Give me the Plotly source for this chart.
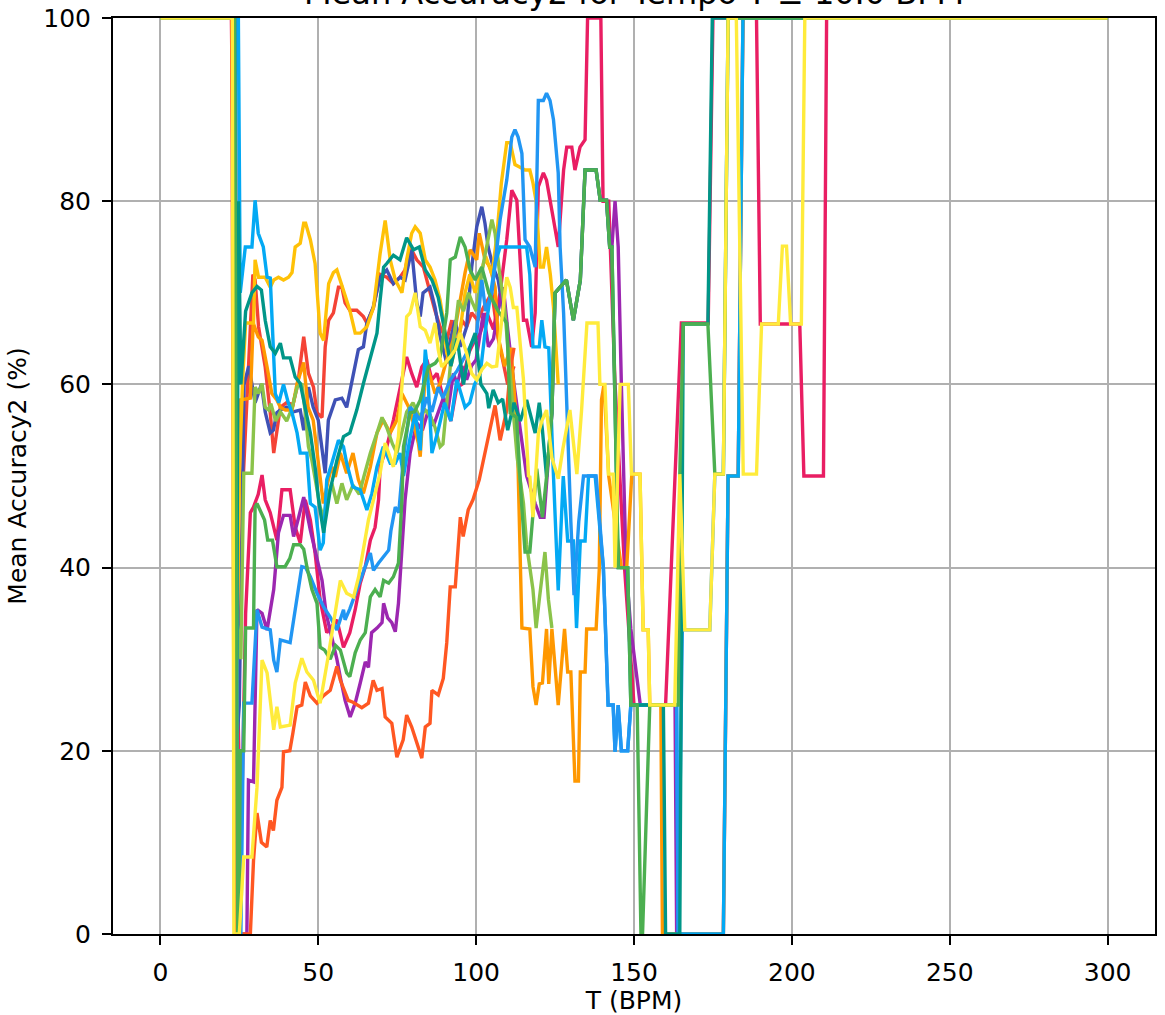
import plotly.graph_objects as go

# ---- data: (BPM, mean accuracy %) per series ----
red = [(0,100),(22.8,100),(23.7,67),(24.5,52),(26,48),(28,62),(29.3,72),(30,71.4),(31.1,66.3),(33.2,61.9),(34.8,56.9),(35.9,52.5),(36.9,54.7),(38,57.5),(40,58),(42,57.8),(43.5,60),(45.4,65.2),(46.9,61.2),(48.5,59.7),(49.6,56.9),(51.2,56.4),(52.2,64.1),(53.3,67),(54.8,67.8),(56.4,70.6),(57.5,70.6),(58.5,68.9),(60,68.1),(62.2,68.1),(64.3,67.4),(65.4,66.7),(67.5,68.4),(69.6,72),(71.7,71.7),(73.8,71),(75.9,71.7),(77.5,72.5),(79.1,75),(81.2,73.6),(83.3,72.8),(85.4,70),(87,68),(88.6,66.3),(90.7,64.8),(92.3,67),(93.9,64),(95.5,67),(97,66.3),(98.6,67.8),(100.5,67),(102.3,68.4),(105,70),(107,65),(110,60),(112,62)]

pink = [(0,100),(22.5,100),(23.5,67),(24.2,31),(25,17),(26,17),(27,35),(28.5,46),(29.5,46.6),(31,48),(32.2,50.1),(33.2,47.4),(34.8,46),(36.9,43),(38.5,48.5),(41.1,48.5),(42.7,44.4),(44.3,42.7),(45.9,47.4),(47.5,45.2),(49,41.6),(50.6,36.5),(52.7,32.9),(55.9,34.3),(58,31.3),(60,32.9),(61.7,35.4),(63.3,38.3),(64.9,40.1),(66.5,43),(68,44.4),(69.1,47.4),(69.6,51),(71.7,53.2),(73.8,56.1),(75.9,59.7),(78,63),(79.6,61.2),(81.2,59.7),(82.8,61.9),(84.4,62.7),(86,60.5),(87.6,61.2),(90,58),(92,56),(93.9,59.7),(95.5,60),(97.6,63.4),(99.1,64.5),(101.3,65.6),(103.4,67.8),(105.5,66),(107.6,70),(109.7,75.8),(111.3,81.2),(112.9,80.1),(113.9,74.3),(115,67),(116,67),(117.6,64.1),(118.7,67.8),(119.7,81.6),(121.3,83.1),(122.3,82.3),(124.5,78),(126,75),(127.7,83.4),(128.7,85.9),(130.3,85.9),(131.3,83.4),(132.9,85.9),(134.5,86.7),(135.3,100),(139.5,100),(140.2,80),(142,80),(144,60),(147,40),(150,25),(160,25),(165,66.7),(173.5,66.7),(175,100),(188.8,100),(190,66.6),(202.5,66.6),(203.8,50),(210,50),(211,100),(300,100)]

indigo = [(0,100),(23,100),(24,20),(25,25),(26.5,60),(28,62),(30,58),(32,60),(33.2,57),(34.8,54.7),(35.8,55),(36.9,56.9),(38,57.2),(40,57.5),(42,57),(44.3,57.2),(45.4,55),(46.9,59.7),(48.4,57.5),(50,56.1),(52.2,50.3),(53.2,56.1),(55.4,58.3),(57.5,58.5),(59,57.5),(61,60.8),(62.7,63.8),(64.3,64.1),(65.4,66.7),(67.4,68.4),(69.6,71.7),(71.7,72.5),(73.8,71),(75.9,71.7),(77.5,71.4),(79.6,74.7),(81.2,68.9),(82.3,67.4),(83.2,70),(85.4,70.6),(87,68.4),(88.6,65.2),(90.7,62.3),(91.8,64.8),(93.4,67),(95,64.1),(97,66.3),(98.6,72.8),(100.2,77.2),(101.8,79.4),(102.8,77.6),(103.8,75),(105.4,72.8),(107,71.4),(108.5,68)]

purple = [(0,100),(23.3,100),(24,0),(27.4,0),(27.9,16.8),(29.5,16.6),(30.6,35.4),(32.2,35),(33.8,33.2),(35.9,37.6),(37.4,43.8),(39,45.7),(41.1,45.7),(42.2,43.4),(43.8,45.5),(45.4,47.7),(47.5,44.1),(49.6,40.8),(51.2,38.6),(52.5,35),(53.8,33.2),(55.9,30),(57,28),(58.5,25.5),(60.1,23.7),(61.7,25.2),(63.3,27.4),(64.9,29.7),(65.9,29.1),(66.9,32.9),(68.6,33.4),(70.2,34),(70.7,36.1),(72,34.5),(73.3,34),(74.4,33),(75.4,36.1),(76.5,41.9),(77.5,47.4),(79.1,52.5),(81.2,55.8),(83,55),(84.9,57.2),(86.5,55.5),(88,57),(89.7,58.6),(91,57),(92.8,61.2),(94,60),(95.5,62),(97,60.5),(98.5,62),(100,62.7),(102.3,67.8),(103.9,64.1),(105.5,65),(107,68.1),(108.6,70.6),(110,66),(112,60),(114,55),(116,50),(118.7,47),(120.3,45.5),(121.5,45.5),(123.4,55.2),(124,56.9),(125,70),(128.6,71.4),(130.8,67),(133,71.4),(134.5,83.4),(138,83.4),(139.3,80.1),(141.3,80.1),(142.3,75),(143,75),(144,80),(145,75),(146,60),(147.5,40),(149,33.3),(152,25),(163,25),(163.5,0),(178.3,0),(179.8,50),(183,50),(184.5,100),(300,100)]

orange = [(0,100),(23.8,100),(24.3,30),(25,50),(25.3,58.3),(28.5,58.5),(29.4,66.7),(31,65.2),(32.2,64.8),(33.8,61.9),(35.3,59),(36.9,58.3),(38,57.5),(39.6,57.2),(41.7,57.2),(43.3,60.1),(44.3,61.2),(45.4,62.4),(45.9,60.5),(46.8,57.5),(48.4,56.1),(50,51.7),(51.6,47),(53.2,49.6),(54.3,51),(55.4,49.9),(57,52.5),(59,50.3),(61,52.5),(62.7,49.6),(64.3,48.1),(66.5,51),(68.6,54.7),(70.6,56.1),(72.8,54.7),(74.9,56.1),(76.5,59),(79.1,57.2),(81.7,53.6),(82.3,52.1),(83.9,61.2),(84.8,61.6),(87,59),(88.6,60.1),(90.7,62.7),(92.7,64.8),(95,69.5),(96.5,72.2),(98.1,74.7),(100.2,73.6),(101,76.5),(102.8,73.6),(104.4,72.8),(106,70.6),(107,65.2),(109,62),(111,64),(113,55),(114.5,33.4),(117,33.3),(118,27),(119,25),(120,27.3),(121,27.4),(122.3,33.3),(123,27.3),(124,33.3),(126,25),(128,33.3),(129,28.6),(130,28.6),(131.3,16.7),(132.4,16.7),(133,28.6),(134.5,28.6),(135,33.3),(138,33.3),(139,39.8),(139.7,58.3),(140.5,60),(142,50),(144,45),(146,40),(147.7,40),(149.3,50.2),(151.9,50.2),(152.9,33.2),(154.5,33.2),(155,25),(158.5,25),(159,0),(178.3,0),(179.8,50),(183,50),(184.5,100),(300,100)]

deep_orange = [(0,100),(22.6,100),(23.5,0),(28.5,0),(29.5,8),(30.6,13.2),(32,10),(33.7,9.5),(34.8,12.4),(35.8,11.3),(36.9,14.6),(38.5,16),(39,19.9),(41,20),(42,22),(43.3,24.8),(44.8,25),(45.9,27.5),(47.5,26),(49.6,25.2),(51.6,26),(53.8,26.6),(55.9,29.2),(57,27.7),(59.5,25.5),(61,25.3),(63.8,24.7),(65.9,25.2),(67.4,27.7),(68.6,26.6),(70.2,26.8),(71.2,23.7),(73.3,23),(74.9,19.3),(76.9,21.2),(78,23.9),(79.6,22.6),(81.2,20.8),(82.8,19.2),(83.9,22.6),(85.4,23),(86,26.6),(88,26.1),(89.6,27.9),(90.7,31.8),(91.8,37.9),(93.4,37.9),(95,45.5),(95.9,43.4),(97.5,46.3),(99,47.4),(101,49.6),(103,53),(106,57.7),(107.6,53.9),(109.7,57.2),(110.8,61.6),(112,64)]

amber = [(0,100),(23.5,100),(24.2,33.4),(25,50),(26,60),(27,66.7),(29.5,66.7),(30,73.6),(31.1,71.7),(33.2,71.7),(34.8,70.6),(35.9,71.4),(37.4,71.7),(39,71.4),(40.6,71.7),(41.7,72.2),(42.7,75),(44.3,75.4),(45.4,77.6),(46,77.6),(47.5,75.8),(49,73.2),(50.6,65.6),(51.7,64.8),(53.3,71),(54.8,72.2),(55.9,72.5),(58,70.3),(60,68.1),(61.7,65.6),(63.3,65.6),(65.4,66.3),(67.5,68.4),(69.6,74.3),(71.2,77.9),(72.8,73.6),(74.4,71.4),(76.5,70),(78,73.6),(79.6,76.5),(80.7,77.2),(82.3,76.5),(83.9,73.6),(85.4,72.8),(87,71.4),(88.6,69.2),(89.6,67),(90.7,63.4),(92,62),(93.4,64.1),(95,66),(96.5,70),(98,72),(99.7,70),(101.3,72),(103,74),(105,72),(106.5,76),(108,82),(109.7,86.4),(110.8,86.4),(112.3,84),(113.9,83.7),(115.5,83.4),(117,83.4),(118,82),(119,80),(120.3,72.8),(121.3,72.8),(122.3,75),(123.5,72),(124.5,68.4),(126,60)]

light_green = [(0,100),(23.2,100),(24,35),(25.5,30),(26.4,50.3),(29,50.3),(30,59.7),(31.1,59),(32.2,60.1),(33.2,57.5),(34.3,57.2),(35,57.9),(36.5,56),(38,57),(40,56),(41.7,57.4),(43.3,59.7),(44.8,60.1),(45.9,56.9),(46.9,53.2),(48,51.7),(49,49.6),(50.6,46.6),(51.7,45.5),(52.7,47.4),(54.3,49.2),(55.9,47),(57.5,49.2),(59,47.4),(61,49),(63,48),(64.5,50),(66.5,52.5),(68.6,54.7),(70.2,56.4),(71.7,55.3),(73.5,53.5),(74.9,52.5),(76.5,55),(78,57),(80,58),(82,56.5),(83.9,57.2),(85.5,56.5),(87,55.3),(88.6,53.2),(89.5,53.5),(91.8,61.9),(93,65),(94.4,69.2),(96,68),(97.6,70),(98.5,69.2),(100,68),(102.3,73.2),(104,76),(105,78),(106,76.5),(107.5,72),(109,68.4),(111,60),(113,52),(115,47),(116,42.5),(118,37.6),(119,33.4),(120,36.5),(121.8,41.7),(122.9,36.5),(124,33.4)]

light_blue = [(0,100),(24.7,100),(25.3,70),(26.9,75),(29,75),(30,80.1),(31,76.5),(32.6,75),(33.8,71.7),(34.8,71.6),(35.8,63.8),(36.4,59),(37.5,58),(39,60),(40.5,58),(41.7,56.9),(43.3,54.7),(44.3,52.5),(46.4,52.5),(47.5,47),(49,46.6),(50.6,41.9),(51.6,42.7),(52.7,49.6),(54.3,51.4),(56.4,53.9),(58,53.2),(59,51.4),(61,48.8),(63.3,48.5),(65.4,46.3),(67,48.1),(68.6,51),(70.6,53.2),(72.8,51.4),(74.4,51.4),(75.9,52.5),(77,50),(79,54),(80.7,56.9),(82.3,52.8),(83.9,63.8),(84.5,62),(86,52.5),(88,55),(90,58),(92,56),(93.9,60.5),(96.5,57.5),(98,58),(99.5,60),(101.3,61.2),(102.8,65.6),(104.5,70),(106,73.2),(107.6,75),(116,75),(117,72),(118,64.1),(120,64.1),(120.8,67),(121.8,64.1),(123,64),(124.5,50),(126,37.5),(127.6,50),(129,42.9),(130.8,42.9),(131.8,33.4),(133,42.9),(134.5,42.9),(135.6,50),(137.7,50),(140.3,40),(141.8,25),(143.4,25),(144,19.9),(145,25),(146,20),(148,20),(149,25),(163.5,25),(164,0),(178.3,0),(179.8,50),(183,50),(184.5,100),(300,100)]

blue = [(0,100),(23.8,100),(24.5,0),(25.5,0),(26.4,25.2),(29,25.2),(30.6,35.4),(32.2,33.5),(34.8,33.2),(35.9,29.9),(36.9,28.6),(38,32.1),(41.1,31.8),(43.3,36.5),(44.8,40.1),(46,40),(47.5,39),(49.6,37.2),(51.7,35.7),(53.8,34.6),(55.9,33.2),(58,35.4),(58.5,34.3),(60,35.5),(61.7,37.2),(63.3,38.6),(66.5,41.6),(67.5,39.7),(69.1,40.5),(70.7,41.2),(72.3,41.9),(73,44),(74.4,46.6),(75.5,46),(77,52),(79.1,57.5),(80.5,57),(82.3,56.1),(84.4,58.6),(86,57),(88,59.7),(89.5,58.5),(91.8,60.5),(94,61.5),(96,62.7),(98.1,64.1),(100.2,65.6),(101.8,71.4),(103,68),(105,70),(107.6,78),(109.7,82.3),(111.3,87),(112.3,87.8),(113.3,87),(114.5,85.2),(115.5,75.8),(117,75),(118.7,72.8),(119.7,91),(121.3,91),(122.3,91.8),(123.4,91),(124.5,88.9),(126,83.1),(126.6,75),(127.7,67.8),(128.7,56.9),(130,45),(131,37),(132.5,45),(134,50),(138,50),(140.3,40),(141.8,25),(143.4,25),(144,19.9),(145,25),(146,20),(148,20),(149,25),(150,25),(163.5,25),(164,0),(165.3,33.2),(174,33.2),(175.6,50.2),(178.3,50.2),(179.8,100),(300,100)]

teal = [(0,100),(23.5,100),(24.2,30),(24.7,80),(25.5,60),(27,68),(29,70),(30.6,70.7),(32,70.3),(33.2,67),(34.8,64.1),(36.4,63.4),(38,64.5),(39,62.9),(41.1,62.9),(42.7,60.8),(44.3,60.1),(46,57),(47.5,54.7),(49,51),(50.1,47.4),(51.7,43.8),(53.8,48.5),(55.9,51.7),(58,54.3),(60,54.7),(62.2,57.2),(64.3,60.1),(66.5,63),(68.6,65.6),(69.6,69.2),(70.7,72.8),(71.7,73.2),(73.8,74.1),(75.9,73.6),(78,76),(80.2,74.7),(82,75),(83.9,72.5),(86,71.4),(88,69.5),(90,66),(92,62),(94,65),(96,60),(98,64),(99.7,65.6),(101.5,60),(103.4,59),(104,57.4),(105.4,59.4),(107,58),(108.4,58.4),(110,55),(112,58),(114,56),(116,58.3),(118.7,54.7),(120,58),(121,55),(122.3,49.9),(124,56.9),(125,70),(128.6,71.4),(130.8,67),(133,71.4),(134.5,83.4),(138,83.4),(139.3,80.1),(141.3,80.1),(142.3,75),(143,75),(145,40),(148,40),(149,25),(159.3,25),(160,0),(164.5,0),(165.6,66.6),(173.4,66.6),(174.8,100),(300,100)]

green = [(0,100),(23.5,100),(24.5,0),(24.9,0),(25.3,20),(26.4,20),(27,33.4),(29.5,33.4),(30,46.6),(30.6,47),(33,45.2),(34,43),(35.5,43),(36.9,40.1),(39.5,40.1),(41,41),(42.2,42.5),(44.3,42.5),(45.4,42),(46.4,40.1),(48,37.6),(49.6,36.1),(50.6,31.3),(52,31),(53.8,30),(55.5,31.5),(57,31),(59,28.5),(60,28.1),(61.7,30.7),(63.3,32.1),(64.9,32.9),(66.5,36.8),(68,37.6),(69.6,36.8),(70.7,38.6),(72.3,38.3),(73.8,39),(75.4,40.5),(76.5,47.4),(77,53.2),(79.1,56.9),(80.5,57),(82.3,58.3),(84.9,61.9),(87,62.3),(88.6,63),(90.7,67.8),(91.8,73.6),(93.4,73.9),(95,76.1),(96.5,75),(98.1,72.5),(99.7,71.4),(101.8,72.8),(104,70),(107,68),(109.7,66.7),(110.8,56.9),(112.8,56.4),(114.4,47),(115.5,41.7),(117,41.7),(119.2,50.8),(121,45.5),(122.3,49.9),(124,56.9),(125,70),(128.6,71.4),(130.8,67),(133,71.4),(134.5,83.4),(138,83.4),(139.3,80.1),(141.3,80.1),(142.3,75),(143,75),(145,40),(148,40),(149,25),(151,25),(152.2,0),(152.7,0),(155,25),(164,25),(164.5,50),(165.6,66.6),(173.4,66.6),(175.6,50.2),(178.3,50.2),(179.8,100),(300,100)]

yellow = [(0,100),(22.8,100),(23.3,0),(25,0),(26.4,8.4),(29,8.4),(30.6,16),(32.2,29.9),(33.8,28.5),(35.9,22.3),(36.9,24.8),(38,22.6),(41.1,22.8),(42.7,27.4),(44.8,30.1),(46.4,28.6),(48.5,27.7),(50.6,25.2),(53,30),(55.9,36.5),(57,38.6),(59,37.2),(61.2,36.8),(62.8,39),(64.3,41.9),(65.9,45.2),(67.5,47.4),(69.6,50.3),(71.2,53.6),(72.3,52.5),(73.8,51),(75.4,54.3),(78,67.4),(79.1,67.8),(80.7,70),(82.3,66.3),(83.9,65.9),(85.4,64.5),(87,66.7),(88,63.8),(89.1,61.9),(91.8,63),(93.4,63.8),(95,65.6),(97,63.4),(98.6,61.2),(100.2,60.5),(101.8,61.6),(103.4,62.3),(105,61.9),(106.5,62),(108.1,67),(109.7,71.7),(110.8,70.6),(111.8,68.4),(112.9,68.4),(114,64.5),(115,60.5),(116.6,49.9),(117,50),(118,45.5),(119.7,54.6),(120.8,56),(122.3,57.2),(124,52),(126,49.7),(127.5,53),(129.7,57.2),(131.9,50.2),(133.4,57.2),(135.1,66.7),(138.6,66.7),(139.2,60),(140.8,60),(141.9,50.2),(143.4,50.2),(144,40),(145.6,60),(148.2,60),(149.2,50.2),(151.9,50.2),(152.9,33.2),(154.5,33.2),(155,25),(162.9,25),(164.5,50.2),(166.1,33.2),(174,33.2),(175.6,50.2),(178.3,50.2),(179.8,100),(182.4,100),(184.6,50.2),(188.8,50.2),(190.4,66.6),(195.7,66.6),(197,75.1),(198.3,75.1),(199.6,66.6),(203,66.6),(204.1,100),(300,100)]

# draw order (last on top) and colours
series = [
    (red, "#F44336"),
    (pink, "#E91E63"),
    (indigo, "#3F51B5"),
    (purple, "#9C27B0"),
    (orange, "#FF9800"),
    (deep_orange, "#FF5722"),
    (amber, "#FFC107"),
    (light_green, "#8BC34A"),
    (light_blue, "#03A9F4"),
    (blue, "#2196F3"),
    (teal, "#009688"),
    (green, "#4CAF50"),
    (yellow, "#FFEB3B"),
]

title_text = "Mean Accuracy2 for Tempo T ± 10.0 BPM"
x_label = "T (BPM)"
y_label = "Mean Accuracy2 (%)"
x_ticks = [0, 50, 100, 150, 200, 250, 300]
y_ticks = [0, 20, 40, 60, 80, 100]

FONT = "DejaVu Sans"
FS = 25

fig = go.Figure()
for pts, col in series:
    fig.add_trace(go.Scatter(
        x=[p[0] for p in pts], y=[p[1] for p in pts],
        mode="lines", line=dict(color=col, width=3.4),
        showlegend=False, hoverinfo="skip"))

axis_common = dict(
    showgrid=True, gridcolor="#b0b0b0", gridwidth=2,
    showline=True, linecolor="black", linewidth=2, mirror=True,
    ticks="outside", ticklen=9, tickwidth=2, tickcolor="black",
    tickfont=dict(family=FONT, size=FS, color="black"),
    zeroline=False, layer="above traces", automargin=False,
    ticklabelstandoff=6,
)

fig.update_layout(
    width=1165, height=1015,
    margin=dict(l=113, r=10, t=18, b=81),
    paper_bgcolor="white", plot_bgcolor="white",
    font=dict(family=FONT, color="black"),
    xaxis=dict(range=[-15, 315], tickvals=x_ticks,
               title=dict(text=x_label, font=dict(family=FONT, size=FS, color="black"), standoff=6),
               **axis_common),
    yaxis=dict(range=[0, 100], tickvals=y_ticks,
               title=dict(text=y_label, font=dict(family=FONT, size=FS, color="black"), standoff=10),
               **axis_common),
    annotations=[dict(text=title_text, xref="paper", yref="paper", x=0.5, y=1,
                      xanchor="center", yanchor="bottom", yshift=4, showarrow=False,
                      font=dict(family=FONT, size=32, color="black"))],
)

fig.write_html("out.html", config={"displayModeBar": False})

# remove the browser's default page margin so the figure sits at the window's corner
with open("out.html", "r", encoding="utf-8") as f:
    html = f.read()
html = html.replace("<head>", "<head><style>html,body{margin:0;padding:0;overflow:hidden;}</style>", 1)
with open("out.html", "w", encoding="utf-8") as f:
    f.write(html)
